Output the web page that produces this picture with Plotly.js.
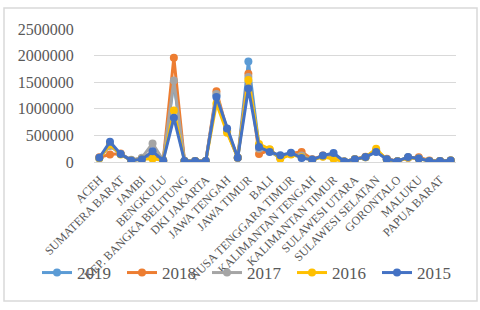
<!DOCTYPE html>
<html>
<head>
<meta charset="utf-8">
<script src="https://cdn.plot.ly/plotly-3.0.1.min.js"></script>
<style>
html,body{margin:0;padding:0;background:#fff;}
#chart{width:480px;height:310px;}
</style>
</head>
<body>
<div id="chart"></div>
<script>
const provinces = ["ACEH","SUMATERA UTARA","SUMATERA BARAT","RIAU","JAMBI","SUMATERA SELATAN","BENGKULU","LAMPUNG","KEP. BANGKA BELITUNG","KEP. RIAU","DKI JAKARTA","JAWA BARAT","JAWA TENGAH","DI YOGYAKARTA","JAWA TIMUR","BANTEN","BALI","NUSA TENGGARA BARAT","NUSA TENGGARA TIMUR","KALIMANTAN BARAT","KALIMANTAN TENGAH","KALIMANTAN SELATAN","KALIMANTAN TIMUR","KALIMANTAN UTARA","SULAWESI UTARA","SULAWESI TENGAH","SULAWESI SELATAN","SULAWESI TENGGARA","GORONTALO","SULAWESI BARAT","MALUKU","MALUKU UTARA","PAPUA BARAT","PAPUA"];

const y2019 = [70000,320000,150000,30000,60000,100000,30000,1500000,20000,20000,20000,1250000,580000,80000,1890000,300000,200000,80000,150000,100000,40000,110000,80000,10000,50000,90000,200000,50000,15000,90000,70000,20000,20000,30000];
const y2018 = [90000,140000,160000,30000,70000,180000,30000,1960000,20000,20000,20000,1330000,600000,80000,1660000,150000,220000,90000,160000,190000,50000,120000,90000,10000,50000,100000,210000,60000,15000,80000,90000,30000,20000,30000];
const y2017 = [80000,300000,150000,40000,80000,350000,30000,1530000,20000,20000,20000,1280000,590000,80000,1600000,250000,230000,80000,150000,120000,40000,110000,70000,10000,50000,90000,220000,50000,15000,80000,70000,20000,20000,30000];
const y2016 = [70000,330000,140000,30000,50000,60000,30000,970000,20000,20000,20000,1100000,550000,80000,1540000,340000,240000,60000,140000,90000,40000,100000,60000,10000,50000,90000,250000,40000,15000,85000,60000,20000,20000,30000];
const y2015 = [80000,380000,150000,30000,50000,200000,30000,830000,20000,20000,20000,1220000,630000,80000,1380000,280000,190000,125000,175000,75000,45000,120000,170000,10000,50000,95000,190000,50000,15000,95000,65000,20000,20000,30000];

const seriesNames = ["2019","2018","2017","2016","2015"];
const seriesValues = [y2019,y2018,y2017,y2016,y2015];
const colors = ["#5B9BD5","#ED7D31","#A5A5A5","#FFC000","#4472C4"];

const tickLabels = provinces.filter((p,i)=>i%2===0);

const traces = seriesNames.map((n,i)=>({
  type:'scatter', mode:'lines+markers', name:n,
  x:provinces, y:seriesValues[i],
  line:{color:colors[i], width:3},
  marker:{color:colors[i], size:8}
}));

const L=94, R=456, T=29, B=162;
const W=480, H=310;
const px = v => (v-L)/(R-L);
const py = v => (B-v)/(B-T);
const SERIF = '"Liberation Serif","Times New Roman",serif';

const layout = {
  width:W, height:H,
  margin:{l:L, r:W-R, t:T, b:H-B, pad:0},
  paper_bgcolor:'#fff', plot_bgcolor:'#fff',
  font:{family:SERIF, color:'#595959'},
  showlegend:true,
  legend:{orientation:'h', x:px(37), xanchor:'left', y:py(273), yanchor:'middle',
    font:{family:SERIF, size:17, color:'#595959'}, entrywidth:40, entrywidthmode:'pixels',
    bgcolor:'rgba(0,0,0,0)', traceorder:'normal'},
  xaxis:{type:'category', categoryorder:'array', categoryarray:provinces,
    range:[-0.5,33.5], tickmode:'array', tickvals:tickLabels, ticktext:tickLabels,
    tickangle:-45, tickfont:{family:SERIF, size:12, color:'#595959'},
    showgrid:false, showline:true, linecolor:'#D9D9D9', linewidth:1,
    ticks:'outside', ticklen:5, tickcolor:'rgba(0,0,0,0)', automargin:false, zeroline:false},
  yaxis:{range:[0,2500000], dtick:500000, tick0:0, tickformat:'d',
    tickfont:{family:SERIF, size:16, color:'#595959'}, showgrid:true, gridcolor:'#D9D9D9', gridwidth:1,
    zeroline:false, showline:false, ticks:'outside', ticklen:16, tickcolor:'rgba(0,0,0,0)', automargin:false},
  shapes:[{type:'rect', xref:'paper', yref:'paper', x0:px(4), x1:px(477), y0:py(301), y1:py(8),
    line:{color:'#D9D9D9', width:1.5}, fillcolor:'rgba(0,0,0,0)', layer:'below'}]
};

Plotly.newPlot('chart', traces, layout, {displayModeBar:false, staticPlot:true});
</script>
</body>
</html>
